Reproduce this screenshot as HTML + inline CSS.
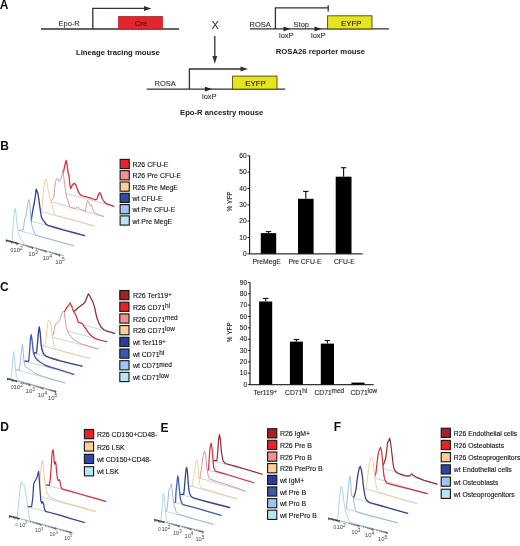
<!DOCTYPE html><html><head><meta charset="utf-8"><style>html,body{margin:0;padding:0;background:#fff;}svg{display:block;}</style></head><body>
<svg width="520" height="546" viewBox="0 0 520 546" font-family='"Liberation Sans", sans-serif'>
<defs><filter id="soft" filterUnits="userSpaceOnUse" x="0" y="0" width="520" height="546"><feGaussianBlur stdDeviation="0.42"/></filter></defs>
<rect width="520" height="546" fill="#fff"/>
<g filter="url(#soft)">
<text x="-0.3" y="9.3" font-size="12.00" font-weight="bold" text-anchor="start" fill="#111" >A</text>
<text x="0.3" y="150.0" font-size="12.00" font-weight="bold" text-anchor="start" fill="#111" >B</text>
<text x="0.1" y="291.1" font-size="12.00" font-weight="bold" text-anchor="start" fill="#111" >C</text>
<text x="0.3" y="430.8" font-size="12.00" font-weight="bold" text-anchor="start" fill="#111" >D</text>
<text x="160.6" y="432.1" font-size="12.00" font-weight="bold" text-anchor="start" fill="#111" >E</text>
<text x="333.8" y="431.2" font-size="12.00" font-weight="bold" text-anchor="start" fill="#111" >F</text>
<line x1="41" y1="29" x2="179" y2="29" stroke="#333" stroke-width="1.3"/>
<polyline points="92.8,29 92.8,8.4 146,8.4" fill="none" stroke="#333" stroke-width="1.3"/>
<polygon points="144,5.9 151.5,8.4 144,10.9" fill="#333"/>
<rect x="118.3" y="16.3" width="44.3" height="12.7" fill="#e2252d" stroke="#a01c20" stroke-width="0.6"/>
<text x="141.0" y="26.4" font-size="7.80" font-weight="normal" text-anchor="middle" fill="#401010" stroke="#401010" stroke-width="0.15">Cre</text>
<text x="58.5" y="26.4" font-size="7.50" font-weight="normal" text-anchor="start" fill="#2e2e2e" stroke="#2e2e2e" stroke-width="0.1">Epo-R</text>
<text x="76.0" y="54.6" font-size="7.70" font-weight="bold" text-anchor="start" fill="#1a1a1a" >Lineage tracing mouse</text>
<text x="215.1" y="28.8" font-size="11.00" font-weight="normal" text-anchor="middle" fill="#333" stroke="#333" stroke-width="0.1">X</text>
<line x1="214.8" y1="36" x2="214.8" y2="57" stroke="#333" stroke-width="1.3"/>
<polygon points="212.4,56 217.2,56 214.8,64" fill="#333"/>
<line x1="250" y1="28.9" x2="389" y2="28.9" stroke="#333" stroke-width="1.3"/>
<polyline points="275.4,28.9 275.4,7.8 328.2,7.8" fill="none" stroke="#333" stroke-width="1.3"/>
<line x1="328.2" y1="5.2" x2="328.2" y2="11.4" stroke="#333" stroke-width="1.3"/>
<polygon points="283.5,26.6 290.5,28.9 283.5,31.2" fill="#222"/>
<polygon points="314.5,26.6 321.5,28.9 314.5,31.2" fill="#222"/>
<rect x="327.6" y="15.8" width="44.4" height="13.1" fill="#e6e41e" stroke="#4a4a10" stroke-width="0.9"/>
<text x="351.3" y="26.3" font-size="7.80" font-weight="normal" text-anchor="middle" fill="#262606" stroke="#262606" stroke-width="0.15">EYFP</text>
<text x="249.5" y="26.6" font-size="7.50" font-weight="normal" text-anchor="start" fill="#2e2e2e" stroke="#2e2e2e" stroke-width="0.1">ROSA</text>
<text x="293.6" y="26.6" font-size="7.50" font-weight="normal" text-anchor="start" fill="#2e2e2e" stroke="#2e2e2e" stroke-width="0.1">Stop</text>
<text x="279.0" y="37.5" font-size="7.50" font-weight="normal" text-anchor="start" fill="#2e2e2e" stroke="#2e2e2e" stroke-width="0.1">loxP</text>
<text x="311.0" y="37.7" font-size="7.50" font-weight="normal" text-anchor="start" fill="#2e2e2e" stroke="#2e2e2e" stroke-width="0.1">loxP</text>
<text x="275.8" y="54.3" font-size="7.70" font-weight="bold" text-anchor="start" fill="#1a1a1a" >ROSA26 reporter mouse</text>
<line x1="146.8" y1="89.1" x2="285.2" y2="89.1" stroke="#333" stroke-width="1.3"/>
<polyline points="189.4,89.1 189.4,69 242,69" fill="none" stroke="#333" stroke-width="1.3"/>
<polygon points="240.5,66.5 248,69 240.5,71.5" fill="#333"/>
<polygon points="205,86.8 212,89.1 205,91.4" fill="#222"/>
<rect x="232.4" y="76.1" width="44.6" height="13" fill="#e6e41e" stroke="#4a4a10" stroke-width="0.9"/>
<text x="255.5" y="86.4" font-size="7.80" font-weight="normal" text-anchor="middle" fill="#262606" stroke="#262606" stroke-width="0.15">EYFP</text>
<text x="154.5" y="86.3" font-size="7.50" font-weight="normal" text-anchor="start" fill="#2e2e2e" stroke="#2e2e2e" stroke-width="0.1">ROSA</text>
<text x="202.0" y="99.2" font-size="7.50" font-weight="normal" text-anchor="start" fill="#2e2e2e" stroke="#2e2e2e" stroke-width="0.1">loxP</text>
<text x="180.0" y="114.7" font-size="7.70" font-weight="bold" text-anchor="start" fill="#1a1a1a" >Epo-R ancestry mouse</text>
<polygon points="60.0,192.0 61.5,182.0 63.0,174.0 64.5,167.0 66.0,160.5 67.0,164.0 68.0,172.0 69.0,176.0 69.8,184.0 70.6,188.3 71.5,186.8 72.9,184.3 74.3,183.4 75.6,184.6 77.0,188.0 78.5,192.2 80.5,194.9 83.0,196.2 86.6,196.8 90.0,197.8 93.0,199.0 95.5,199.8 97.0,199.0 98.5,194.5 99.8,192.6 101.0,194.5 102.3,199.0 104.0,201.5 106.0,203.3 109.0,204.6 113.8,206.3 113.8,206.3 60.0,192.0" fill="#fff" stroke="none"/>
<line x1="60.0" y1="192.0" x2="113.8" y2="206.3" stroke="#c2c6ce" stroke-width="0.8"/>
<polyline points="60.0,192.0 61.5,182.0 63.0,174.0 64.5,167.0 66.0,160.5 67.0,164.0 68.0,172.0 69.0,176.0 69.8,184.0 70.6,188.3 71.5,186.8 72.9,184.3 74.3,183.4 75.6,184.6 77.0,188.0 78.5,192.2 80.5,194.9 83.0,196.2 86.6,196.8 90.0,197.8 93.0,199.0 95.5,199.8 97.0,199.0 98.5,194.5 99.8,192.6 101.0,194.5 102.3,199.0 104.0,201.5 106.0,203.3 109.0,204.6 113.8,206.3" fill="none" stroke="#d0303f" stroke-width="1.30" stroke-linejoin="round" stroke-linecap="round"/>
<polygon points="50.6,201.6 52.0,200.2 53.8,197.5 54.7,188.3 55.6,181.5 56.5,179.0 57.8,178.4 59.2,181.5 60.5,179.5 61.9,175.6 62.8,170.3 63.7,176.6 64.7,184.8 65.6,191.2 66.5,197.0 67.7,200.0 69.6,206.9 70.8,207.7 75.4,208.5 77.7,206.5 79.2,208.0 80.8,209.6 85.4,211.2 86.5,205.0 87.3,200.4 88.5,201.5 90.0,205.4 91.2,204.8 92.3,207.3 93.8,211.9 96.2,213.5 100.0,215.4 103.8,216.5 103.8,216.5 50.6,201.6" fill="#fff" stroke="none"/>
<line x1="50.6" y1="201.6" x2="103.8" y2="216.5" stroke="#c2c6ce" stroke-width="0.8"/>
<polyline points="50.6,201.6 52.0,200.2 53.8,197.5 54.7,188.3 55.6,181.5 56.5,179.0 57.8,178.4 59.2,181.5 60.5,179.5 61.9,175.6 62.8,170.3 63.7,176.6 64.7,184.8 65.6,191.2 66.5,197.0 67.7,200.0 69.6,206.9 70.8,207.7 75.4,208.5 77.7,206.5 79.2,208.0 80.8,209.6 85.4,211.2 86.5,205.0 87.3,200.4 88.5,201.5 90.0,205.4 91.2,204.8 92.3,207.3 93.8,211.9 96.2,213.5 100.0,215.4 103.8,216.5" fill="none" stroke="#dc98a0" stroke-width="1.00" stroke-linejoin="round" stroke-linecap="round"/>
<polygon points="41.9,211.7 42.3,206.0 42.8,197.5 43.7,188.3 45.1,180.0 46.0,178.7 46.9,181.9 47.9,188.3 49.2,195.6 50.6,200.2 52.0,205.7 53.4,210.3 54.7,214.0 56.0,215.5 60.0,216.6 70.0,219.3 80.0,222.0 94.6,226.0 94.6,226.0 41.9,211.7" fill="#fff" stroke="none"/>
<line x1="41.9" y1="211.7" x2="94.6" y2="226.0" stroke="#c2c6ce" stroke-width="0.8"/>
<polyline points="41.9,211.7 42.3,206.0 42.8,197.5 43.7,188.3 45.1,180.0 46.0,178.7 46.9,181.9 47.9,188.3 49.2,195.6 50.6,200.2 52.0,205.7 53.4,210.3 54.7,214.0 56.0,215.5 60.0,216.6 70.0,219.3 80.0,222.0 94.6,226.0" fill="none" stroke="#efd0a2" stroke-width="1.00" stroke-linejoin="round" stroke-linecap="round"/>
<polygon points="31.1,221.1 31.6,217.9 32.5,212.0 33.4,207.0 34.3,203.0 35.2,197.0 36.2,189.2 37.8,193.0 38.7,198.5 39.6,205.0 40.5,211.5 41.4,217.0 42.5,219.5 44.4,221.6 46.2,224.4 48.0,225.4 55.0,227.5 65.0,230.3 75.0,233.0 84.6,235.6 84.6,235.6 31.1,221.1" fill="#fff" stroke="none"/>
<line x1="31.1" y1="221.1" x2="84.6" y2="235.6" stroke="#c2c6ce" stroke-width="0.8"/>
<polyline points="31.1,221.1 31.6,217.9 32.5,212.0 33.4,207.0 34.3,203.0 35.2,197.0 36.2,189.2 37.8,193.0 38.7,198.5 39.6,205.0 40.5,211.5 41.4,217.0 42.5,219.5 44.4,221.6 46.2,224.4 48.0,225.4 55.0,227.5 65.0,230.3 75.0,233.0 84.6,235.6" fill="none" stroke="#37438e" stroke-width="1.35" stroke-linejoin="round" stroke-linecap="round"/>
<polygon points="18.3,230.3 23.3,229.8 24.2,222.5 25.0,217.9 26.1,216.5 27.0,208.7 27.9,202.3 29.0,199.6 29.7,203.2 30.2,208.7 30.6,215.1 31.1,221.6 32.0,226.1 33.4,229.8 34.8,233.5 36.1,235.3 40.0,236.5 50.0,239.2 60.0,242.0 74.0,245.8 74.0,245.8 18.3,230.3" fill="#fff" stroke="none"/>
<line x1="18.3" y1="230.3" x2="74.0" y2="245.8" stroke="#c2c6ce" stroke-width="0.8"/>
<polyline points="18.3,230.3 23.3,229.8 24.2,222.5 25.0,217.9 26.1,216.5 27.0,208.7 27.9,202.3 29.0,199.6 29.7,203.2 30.2,208.7 30.6,215.1 31.1,221.6 32.0,226.1 33.4,229.8 34.8,233.5 36.1,235.3 40.0,236.5 50.0,239.2 60.0,242.0 74.0,245.8" fill="none" stroke="#98bae0" stroke-width="1.00" stroke-linejoin="round" stroke-linecap="round"/>
<polygon points="6.0,240.0 11.9,241.5 12.8,231.6 13.4,222.5 14.2,213.3 15.1,208.3 16.0,213.3 16.9,222.5 17.8,229.8 18.7,234.4 20.1,238.0 22.4,241.7 25.0,245.0 63.5,255.8 63.5,255.8 6.0,240.0" fill="#fff" stroke="none"/>
<line x1="6.0" y1="240.0" x2="63.5" y2="255.8" stroke="#c2c6ce" stroke-width="0.8"/>
<polyline points="6.0,240.0 11.9,241.5 12.8,231.6 13.4,222.5 14.2,213.3 15.1,208.3 16.0,213.3 16.9,222.5 17.8,229.8 18.7,234.4 20.1,238.0 22.4,241.7 25.0,245.0 63.5,255.8" fill="none" stroke="#acd8e6" stroke-width="1.00" stroke-linejoin="round" stroke-linecap="round"/>
<polygon points="65.8,320.2 70.0,315.0 74.3,311.0 76.1,309.7 78.0,307.8 79.8,306.4 81.6,305.0 83.5,303.9 85.4,301.5 87.1,297.1 88.4,293.8 89.8,296.0 91.5,299.3 93.1,302.6 94.8,308.1 95.9,313.6 97.0,318.0 98.6,322.4 100.8,326.8 103.6,329.5 106.9,331.2 111.3,332.3 114.6,333.4 114.6,333.4 65.8,320.2" fill="#fff" stroke="none"/>
<line x1="65.8" y1="320.2" x2="114.6" y2="333.4" stroke="#c2c6ce" stroke-width="0.8"/>
<polyline points="65.8,320.2 70.0,315.0 74.3,311.0 76.1,309.7 78.0,307.8 79.8,306.4 81.6,305.0 83.5,303.9 85.4,301.5 87.1,297.1 88.4,293.8 89.8,296.0 91.5,299.3 93.1,302.6 94.8,308.1 95.9,313.6 97.0,318.0 98.6,322.4 100.8,326.8 103.6,329.5 106.9,331.2 111.3,332.3 114.6,333.4" fill="none" stroke="#8c2c34" stroke-width="1.25" stroke-linejoin="round" stroke-linecap="round"/>
<polygon points="58.0,328.4 61.0,322.0 63.8,311.5 64.7,311.5 66.1,308.7 67.4,306.9 68.8,305.1 70.2,302.8 71.1,305.1 72.0,306.9 72.9,309.7 73.8,311.9 75.0,313.6 76.6,316.9 78.3,322.4 80.5,322.9 82.7,324.0 84.3,326.8 86.0,329.0 88.2,332.3 90.9,335.5 94.8,338.3 99.2,340.0 103.6,341.0 106.9,341.6 106.9,341.6 58.0,328.4" fill="#fff" stroke="none"/>
<line x1="58.0" y1="328.4" x2="106.9" y2="341.6" stroke="#c2c6ce" stroke-width="0.8"/>
<polyline points="58.0,328.4 61.0,322.0 63.8,311.5 64.7,311.5 66.1,308.7 67.4,306.9 68.8,305.1 70.2,302.8 71.1,305.1 72.0,306.9 72.9,309.7 73.8,311.9 75.0,313.6 76.6,316.9 78.3,322.4 80.5,322.9 82.7,324.0 84.3,326.8 86.0,329.0 88.2,332.3 90.9,335.5 94.8,338.3 99.2,340.0 103.6,341.0 106.9,341.6" fill="none" stroke="#d0303f" stroke-width="1.25" stroke-linejoin="round" stroke-linecap="round"/>
<polygon points="49.2,336.4 53.2,335.3 54.2,329.8 55.1,325.2 56.4,323.4 58.3,322.5 59.7,320.6 61.0,316.1 62.0,312.9 63.3,311.0 64.2,312.4 65.1,318.8 66.1,326.1 67.4,330.7 68.8,333.5 70.6,336.2 73.4,339.5 77.0,341.5 80.7,343.6 85.0,345.0 90.0,346.6 98.0,348.9 98.0,348.9 49.2,336.4" fill="#fff" stroke="none"/>
<line x1="49.2" y1="336.4" x2="98.0" y2="348.9" stroke="#c2c6ce" stroke-width="0.8"/>
<polyline points="49.2,336.4 53.2,335.3 54.2,329.8 55.1,325.2 56.4,323.4 58.3,322.5 59.7,320.6 61.0,316.1 62.0,312.9 63.3,311.0 64.2,312.4 65.1,318.8 66.1,326.1 67.4,330.7 68.8,333.5 70.6,336.2 73.4,339.5 77.0,341.5 80.7,343.6 85.0,345.0 90.0,346.6 98.0,348.9" fill="none" stroke="#dc98a0" stroke-width="1.00" stroke-linejoin="round" stroke-linecap="round"/>
<polygon points="41.2,345.4 45.2,345.2 46.1,337.9 47.0,328.7 47.9,322.3 49.3,320.0 50.2,321.4 51.1,326.0 52.0,333.3 53.0,340.6 53.9,345.2 55.3,349.0 60.0,350.5 70.0,353.2 80.0,355.9 90.0,358.6 90.0,358.6 41.2,345.4" fill="#fff" stroke="none"/>
<line x1="41.2" y1="345.4" x2="90.0" y2="358.6" stroke="#c2c6ce" stroke-width="0.8"/>
<polyline points="41.2,345.4 45.2,345.2 46.1,337.9 47.0,328.7 47.9,322.3 49.3,320.0 50.2,321.4 51.1,326.0 52.0,333.3 53.0,340.6 53.9,345.2 55.3,349.0 60.0,350.5 70.0,353.2 80.0,355.9 90.0,358.6" fill="none" stroke="#efd0a2" stroke-width="1.00" stroke-linejoin="round" stroke-linecap="round"/>
<polygon points="33.2,353.0 36.5,353.0 36.9,349.8 37.6,342.5 38.3,333.3 39.2,326.9 40.0,331.5 40.6,337.9 41.2,345.2 42.0,349.8 43.4,353.5 45.6,355.8 49.3,357.6 53.9,359.0 60.0,360.8 70.0,363.3 82.0,366.2 82.0,366.2 33.2,353.0" fill="#fff" stroke="none"/>
<line x1="33.2" y1="353.0" x2="82.0" y2="366.2" stroke="#c2c6ce" stroke-width="0.8"/>
<polyline points="33.2,353.0 36.5,353.0 36.9,349.8 37.6,342.5 38.3,333.3 39.2,326.9 40.0,331.5 40.6,337.9 41.2,345.2 42.0,349.8 43.4,353.5 45.6,355.8 49.3,357.6 53.9,359.0 60.0,360.8 70.0,363.3 82.0,366.2" fill="none" stroke="#37438e" stroke-width="1.35" stroke-linejoin="round" stroke-linecap="round"/>
<polygon points="24.6,361.2 28.7,361.2 29.2,356.2 29.9,347.0 30.5,337.9 31.2,334.7 31.9,338.8 32.6,345.2 33.3,351.6 34.2,355.3 35.6,358.0 37.4,359.9 39.7,361.7 42.4,363.5 44.7,365.0 50.0,367.0 60.0,369.9 73.9,374.3 73.9,374.3 24.6,361.2" fill="#fff" stroke="none"/>
<line x1="24.6" y1="361.2" x2="73.9" y2="374.3" stroke="#c2c6ce" stroke-width="0.8"/>
<polyline points="24.6,361.2 28.7,361.2 29.2,356.2 29.9,347.0 30.5,337.9 31.2,334.7 31.9,338.8 32.6,345.2 33.3,351.6 34.2,355.3 35.6,358.0 37.4,359.9 39.7,361.7 42.4,363.5 44.7,365.0 50.0,367.0 60.0,369.9 73.9,374.3" fill="none" stroke="#4060b0" stroke-width="1.35" stroke-linejoin="round" stroke-linecap="round"/>
<polygon points="15.9,369.6 19.2,370.2 20.3,362.5 21.4,351.5 22.5,343.8 23.3,353.0 24.0,362.0 25.3,366.5 28.0,368.5 31.0,370.5 33.0,372.2 36.3,374.0 45.0,377.2 55.0,380.1 64.7,382.8 64.7,382.8 15.9,369.6" fill="#fff" stroke="none"/>
<line x1="15.9" y1="369.6" x2="64.7" y2="382.8" stroke="#c2c6ce" stroke-width="0.8"/>
<polyline points="15.9,369.6 19.2,370.2 20.3,362.5 21.4,351.5 22.5,343.8 23.3,353.0 24.0,362.0 25.3,366.5 28.0,368.5 31.0,370.5 33.0,372.2 36.3,374.0 45.0,377.2 55.0,380.1 64.7,382.8" fill="none" stroke="#98bae0" stroke-width="1.00" stroke-linejoin="round" stroke-linecap="round"/>
<polygon points="7.1,378.4 11.0,379.5 12.1,368.0 13.0,357.0 13.7,351.5 14.5,357.0 15.4,369.0 16.5,376.8 18.1,379.8 20.0,381.0 56.5,391.5 56.5,391.5 7.1,378.4" fill="#fff" stroke="none"/>
<line x1="7.1" y1="378.4" x2="56.5" y2="391.5" stroke="#c2c6ce" stroke-width="0.8"/>
<polyline points="7.1,378.4 11.0,379.5 12.1,368.0 13.0,357.0 13.7,351.5 14.5,357.0 15.4,369.0 16.5,376.8 18.1,379.8 20.0,381.0 56.5,391.5" fill="none" stroke="#acd8e6" stroke-width="1.00" stroke-linejoin="round" stroke-linecap="round"/>
<polygon points="45.6,484.9 49.4,485.4 50.4,477.7 51.2,467.1 51.8,456.5 52.5,450.8 53.1,449.8 53.8,455.6 54.2,462.3 54.7,464.2 55.4,461.8 56.0,464.2 56.6,471.9 57.3,477.7 58.1,480.6 59.0,479.6 59.8,480.6 60.5,484.4 61.4,488.3 62.9,489.2 70.0,491.2 80.0,494.0 90.0,496.9 105.8,501.3 105.8,501.3 45.6,484.9" fill="#fff" stroke="none"/>
<line x1="45.6" y1="484.9" x2="105.8" y2="501.3" stroke="#c2c6ce" stroke-width="0.8"/>
<polyline points="45.6,484.9 49.4,485.4 50.4,477.7 51.2,467.1 51.8,456.5 52.5,450.8 53.1,449.8 53.8,455.6 54.2,462.3 54.7,464.2 55.4,461.8 56.0,464.2 56.6,471.9 57.3,477.7 58.1,480.6 59.0,479.6 59.8,480.6 60.5,484.4 61.4,488.3 62.9,489.2 70.0,491.2 80.0,494.0 90.0,496.9 105.8,501.3" fill="none" stroke="#d0303f" stroke-width="1.20" stroke-linejoin="round" stroke-linecap="round"/>
<polygon points="36.5,495.7 38.5,492.0 39.5,485.0 40.2,478.0 41.0,469.0 41.7,462.3 42.5,460.4 43.2,464.2 43.8,471.9 44.6,479.6 45.4,485.4 46.3,490.2 47.5,494.0 50.0,497.0 55.0,499.5 60.0,501.3 70.0,504.0 80.0,506.9 95.2,511.5 95.2,511.5 36.5,495.7" fill="#fff" stroke="none"/>
<line x1="36.5" y1="495.7" x2="95.2" y2="511.5" stroke="#c2c6ce" stroke-width="0.8"/>
<polyline points="36.5,495.7 38.5,492.0 39.5,485.0 40.2,478.0 41.0,469.0 41.7,462.3 42.5,460.4 43.2,464.2 43.8,471.9 44.6,479.6 45.4,485.4 46.3,490.2 47.5,494.0 50.0,497.0 55.0,499.5 60.0,501.3 70.0,504.0 80.0,506.9 95.2,511.5" fill="none" stroke="#efd0a2" stroke-width="1.10" stroke-linejoin="round" stroke-linecap="round"/>
<polygon points="27.3,506.5 31.6,506.5 32.3,501.7 33.1,494.0 33.6,484.4 34.5,481.5 35.5,480.6 36.9,477.7 37.9,473.8 38.7,471.4 39.3,479.6 40.0,489.2 40.8,500.8 41.7,503.2 42.7,501.7 43.7,504.6 44.6,509.4 45.6,511.3 50.0,512.5 60.0,515.2 70.0,518.4 84.6,522.5 84.6,522.5 27.3,506.5" fill="#fff" stroke="none"/>
<line x1="27.3" y1="506.5" x2="84.6" y2="522.5" stroke="#c2c6ce" stroke-width="0.8"/>
<polyline points="27.3,506.5 31.6,506.5 32.3,501.7 33.1,494.0 33.6,484.4 34.5,481.5 35.5,480.6 36.9,477.7 37.9,473.8 38.7,471.4 39.3,479.6 40.0,489.2 40.8,500.8 41.7,503.2 42.7,501.7 43.7,504.6 44.6,509.4 45.6,511.3 50.0,512.5 60.0,515.2 70.0,518.4 84.6,522.5" fill="none" stroke="#37438e" stroke-width="1.25" stroke-linejoin="round" stroke-linecap="round"/>
<polygon points="9.3,515.8 17.2,516.5 18.2,508.5 19.1,498.8 20.1,489.2 21.1,482.5 21.7,481.5 23.0,485.4 23.9,484.4 24.9,487.3 25.9,494.0 26.8,501.7 27.8,508.5 28.8,514.2 29.7,519.0 31.0,521.0 40.0,523.8 72.7,532.7 72.7,532.7 9.3,515.8" fill="#fff" stroke="none"/>
<line x1="9.3" y1="515.8" x2="72.7" y2="532.7" stroke="#c2c6ce" stroke-width="0.8"/>
<polyline points="9.3,515.8 17.2,516.5 18.2,508.5 19.1,498.8 20.1,489.2 21.1,482.5 21.7,481.5 23.0,485.4 23.9,484.4 24.9,487.3 25.9,494.0 26.8,501.7 27.8,508.5 28.8,514.2 29.7,519.0 31.0,521.0 40.0,523.8 72.7,532.7" fill="none" stroke="#acd8e6" stroke-width="1.00" stroke-linejoin="round" stroke-linecap="round"/>
<polygon points="213.0,460.7 216.9,460.7 217.7,452.7 218.5,440.4 219.5,434.5 220.5,440.4 221.5,452.7 223.1,461.2 225.4,463.5 235.0,466.2 245.0,469.0 262.3,474.2 262.3,474.2 213.0,460.7" fill="#fff" stroke="none"/>
<line x1="213.0" y1="460.7" x2="262.3" y2="474.2" stroke="#c2c6ce" stroke-width="0.8"/>
<polyline points="213.0,460.7 216.9,460.7 217.7,452.7 218.5,440.4 219.5,434.5 220.5,440.4 221.5,452.7 223.1,461.2 225.4,463.5 235.0,466.2 245.0,469.0 262.3,474.2" fill="none" stroke="#8c2c34" stroke-width="1.20" stroke-linejoin="round" stroke-linecap="round"/>
<polygon points="206.6,469.6 208.5,469.6 209.2,458.8 210.0,448.0 211.1,443.2 212.0,448.0 213.1,461.9 213.8,468.0 215.4,471.2 225.0,473.8 240.0,478.5 253.8,482.7 253.8,482.7 206.6,469.6" fill="#fff" stroke="none"/>
<line x1="206.6" y1="469.6" x2="253.8" y2="482.7" stroke="#c2c6ce" stroke-width="0.8"/>
<polyline points="206.6,469.6 208.5,469.6 209.2,458.8 210.0,448.0 211.1,443.2 212.0,448.0 213.1,461.9 213.8,468.0 215.4,471.2 225.0,473.8 240.0,478.5 253.8,482.7" fill="none" stroke="#d0303f" stroke-width="1.20" stroke-linejoin="round" stroke-linecap="round"/>
<polygon points="199.0,478.0 200.0,478.1 201.5,468.0 203.1,455.8 204.6,450.8 205.7,455.8 206.9,468.0 208.2,475.8 209.2,478.8 220.0,482.5 230.0,485.5 245.4,491.2 245.4,491.2 199.0,478.0" fill="#fff" stroke="none"/>
<line x1="199.0" y1="478.0" x2="245.4" y2="491.2" stroke="#c2c6ce" stroke-width="0.8"/>
<polyline points="199.0,478.0 200.0,478.1 201.5,468.0 203.1,455.8 204.6,450.8 205.7,455.8 206.9,468.0 208.2,475.8 209.2,478.8 220.0,482.5 230.0,485.5 245.4,491.2" fill="none" stroke="#dc98a0" stroke-width="1.00" stroke-linejoin="round" stroke-linecap="round"/>
<polygon points="190.5,486.0 192.3,486.0 193.5,478.0 194.6,471.2 195.8,461.9 196.9,459.6 198.0,465.0 198.9,477.3 200.0,485.8 201.5,488.1 210.0,490.8 220.0,493.8 236.9,498.8 236.9,498.8 190.5,486.0" fill="#fff" stroke="none"/>
<line x1="190.5" y1="486.0" x2="236.9" y2="498.8" stroke="#c2c6ce" stroke-width="0.8"/>
<polyline points="190.5,486.0 192.3,486.0 193.5,478.0 194.6,471.2 195.8,461.9 196.9,459.6 198.0,465.0 198.9,477.3 200.0,485.8 201.5,488.1 210.0,490.8 220.0,493.8 236.9,498.8" fill="none" stroke="#efd0a2" stroke-width="1.00" stroke-linejoin="round" stroke-linecap="round"/>
<polygon points="180.2,494.4 183.7,494.4 184.4,488.4 185.2,478.1 186.0,470.0 186.7,467.5 187.5,472.3 188.3,483.8 189.2,491.9 190.4,495.4 192.7,497.7 200.0,499.8 210.0,502.5 229.5,507.5 229.5,507.5 180.2,494.4" fill="#fff" stroke="none"/>
<line x1="180.2" y1="494.4" x2="229.5" y2="507.5" stroke="#c2c6ce" stroke-width="0.8"/>
<polyline points="180.2,494.4 183.7,494.4 184.4,488.4 185.2,478.1 186.0,470.0 186.7,467.5 187.5,472.3 188.3,483.8 189.2,491.9 190.4,495.4 192.7,497.7 200.0,499.8 210.0,502.5 229.5,507.5" fill="none" stroke="#37438e" stroke-width="1.30" stroke-linejoin="round" stroke-linecap="round"/>
<polygon points="174.8,502.3 175.5,502.3 176.0,491.9 177.1,481.5 177.7,475.8 178.3,478.1 178.8,483.8 179.4,489.6 180.2,497.7 181.4,502.3 182.9,504.6 190.0,506.3 200.0,509.2 210.0,512.2 221.1,515.4 221.1,515.4 174.8,502.3" fill="#fff" stroke="none"/>
<line x1="174.8" y1="502.3" x2="221.1" y2="515.4" stroke="#c2c6ce" stroke-width="0.8"/>
<polyline points="174.8,502.3 175.5,502.3 176.0,491.9 177.1,481.5 177.7,475.8 178.3,478.1 178.8,483.8 179.4,489.6 180.2,497.7 181.4,502.3 182.9,504.6 190.0,506.3 200.0,509.2 210.0,512.2 221.1,515.4" fill="none" stroke="#4060b0" stroke-width="1.30" stroke-linejoin="round" stroke-linecap="round"/>
<polygon points="166.1,511.5 167.0,510.0 167.9,501.1 169.0,489.6 170.2,487.3 171.3,483.8 172.1,489.6 173.1,498.8 174.2,505.7 176.0,511.5 177.7,513.8 190.0,517.8 200.0,520.6 213.1,524.2 213.1,524.2 166.1,511.5" fill="#fff" stroke="none"/>
<line x1="166.1" y1="511.5" x2="213.1" y2="524.2" stroke="#c2c6ce" stroke-width="0.8"/>
<polyline points="166.1,511.5 167.0,510.0 167.9,501.1 169.0,489.6 170.2,487.3 171.3,483.8 172.1,489.6 173.1,498.8 174.2,505.7 176.0,511.5 177.7,513.8 190.0,517.8 200.0,520.6 213.1,524.2" fill="none" stroke="#98bae0" stroke-width="1.00" stroke-linejoin="round" stroke-linecap="round"/>
<polygon points="154.3,519.5 160.8,521.0 161.5,515.0 162.5,501.1 163.3,493.1 164.1,495.4 164.8,503.4 165.6,512.7 166.2,519.2 168.0,523.0 203.8,531.8 203.8,531.8 154.3,519.5" fill="#fff" stroke="none"/>
<line x1="154.3" y1="519.5" x2="203.8" y2="531.8" stroke="#c2c6ce" stroke-width="0.8"/>
<polyline points="154.3,519.5 160.8,521.0 161.5,515.0 162.5,501.1 163.3,493.1 164.1,495.4 164.8,503.4 165.6,512.7 166.2,519.2 168.0,523.0 203.8,531.8" fill="none" stroke="#acd8e6" stroke-width="1.00" stroke-linejoin="round" stroke-linecap="round"/>
<polygon points="380.0,467.5 382.0,467.0 384.0,463.4 385.5,458.8 386.7,450.8 387.5,442.7 388.6,441.0 389.6,438.1 390.4,441.5 391.3,448.5 392.1,455.4 392.9,462.3 393.8,468.1 395.6,471.5 397.9,473.3 400.8,474.4 404.2,475.6 407.7,476.1 410.0,475.6 411.7,473.8 412.9,475.0 415.7,476.7 419.2,478.4 425.0,480.7 437.1,484.2 437.1,484.2 380.0,467.5" fill="#fff" stroke="none"/>
<line x1="380.0" y1="467.5" x2="437.1" y2="484.2" stroke="#c2c6ce" stroke-width="0.8"/>
<polyline points="380.0,467.5 382.0,467.0 384.0,463.4 385.5,458.8 386.7,450.8 387.5,442.7 388.6,441.0 389.6,438.1 390.4,441.5 391.3,448.5 392.1,455.4 392.9,462.3 393.8,468.1 395.6,471.5 397.9,473.3 400.8,474.4 404.2,475.6 407.7,476.1 410.0,475.6 411.7,473.8 412.9,475.0 415.7,476.7 419.2,478.4 425.0,480.7 437.1,484.2" fill="none" stroke="#8c2c34" stroke-width="1.20" stroke-linejoin="round" stroke-linecap="round"/>
<polygon points="374.2,477.8 376.0,472.7 377.1,462.3 378.3,453.1 379.4,449.6 380.6,447.3 381.7,451.9 382.5,460.0 383.2,469.2 384.0,476.1 385.2,480.7 386.9,483.1 395.0,485.3 410.0,489.2 427.3,493.7 427.3,493.7 374.2,477.8" fill="#fff" stroke="none"/>
<line x1="374.2" y1="477.8" x2="427.3" y2="493.7" stroke="#c2c6ce" stroke-width="0.8"/>
<polyline points="374.2,477.8 376.0,472.7 377.1,462.3 378.3,453.1 379.4,449.6 380.6,447.3 381.7,451.9 382.5,460.0 383.2,469.2 384.0,476.1 385.2,480.7 386.9,483.1 395.0,485.3 410.0,489.2 427.3,493.7" fill="none" stroke="#d0303f" stroke-width="1.20" stroke-linejoin="round" stroke-linecap="round"/>
<polygon points="365.8,489.0 367.5,478.1 369.2,464.2 370.9,458.5 371.3,457.7 372.1,457.5 373.3,461.9 374.4,472.3 375.6,482.7 376.7,488.4 378.4,491.9 385.0,494.0 400.0,498.6 416.9,503.6 416.9,503.6 365.8,489.0" fill="#fff" stroke="none"/>
<line x1="365.8" y1="489.0" x2="416.9" y2="503.6" stroke="#c2c6ce" stroke-width="0.8"/>
<polyline points="365.8,489.0 367.5,478.1 369.2,464.2 370.9,458.5 371.3,457.7 372.1,457.5 373.3,461.9 374.4,472.3 375.6,482.7 376.7,488.4 378.4,491.9 385.0,494.0 400.0,498.6 416.9,503.6" fill="none" stroke="#efd0a2" stroke-width="1.00" stroke-linejoin="round" stroke-linecap="round"/>
<polygon points="353.5,498.0 354.8,494.2 356.0,489.6 357.1,480.4 358.3,472.3 359.4,467.7 360.3,466.5 361.4,470.0 362.3,475.8 363.4,486.1 364.6,494.2 365.8,498.8 367.5,501.1 370.4,502.9 380.0,505.5 390.0,508.3 407.7,513.3 407.7,513.3 353.5,498.0" fill="#fff" stroke="none"/>
<line x1="353.5" y1="498.0" x2="407.7" y2="513.3" stroke="#c2c6ce" stroke-width="0.8"/>
<polyline points="353.5,498.0 354.8,494.2 356.0,489.6 357.1,480.4 358.3,472.3 359.4,467.7 360.3,466.5 361.4,470.0 362.3,475.8 363.4,486.1 364.6,494.2 365.8,498.8 367.5,501.1 370.4,502.9 380.0,505.5 390.0,508.3 407.7,513.3" fill="none" stroke="#37438e" stroke-width="1.30" stroke-linejoin="round" stroke-linecap="round"/>
<polygon points="346.3,508.8 347.3,498.8 348.5,486.1 349.4,478.1 350.0,476.3 350.8,483.8 351.3,493.1 351.9,496.0 353.1,497.0 354.2,503.4 355.4,509.2 357.0,512.0 360.0,513.0 370.0,515.8 398.1,523.0 398.1,523.0 346.3,508.8" fill="#fff" stroke="none"/>
<line x1="346.3" y1="508.8" x2="398.1" y2="523.0" stroke="#c2c6ce" stroke-width="0.8"/>
<polyline points="346.3,508.8 347.3,498.8 348.5,486.1 349.4,478.1 350.0,476.3 350.8,483.8 351.3,493.1 351.9,496.0 353.1,497.0 354.2,503.4 355.4,509.2 357.0,512.0 360.0,513.0 370.0,515.8 398.1,523.0" fill="none" stroke="#98bae0" stroke-width="1.00" stroke-linejoin="round" stroke-linecap="round"/>
<polygon points="328.4,518.1 337.5,520.3 338.1,515.0 339.2,501.1 340.4,489.6 341.5,486.1 342.7,491.9 343.8,501.1 345.0,508.0 346.1,512.7 347.5,517.0 349.0,521.0 352.0,523.0 388.1,532.7 388.1,532.7 328.4,518.1" fill="#fff" stroke="none"/>
<line x1="328.4" y1="518.1" x2="388.1" y2="532.7" stroke="#c2c6ce" stroke-width="0.8"/>
<polyline points="328.4,518.1 337.5,520.3 338.1,515.0 339.2,501.1 340.4,489.6 341.5,486.1 342.7,491.9 343.8,501.1 345.0,508.0 346.1,512.7 347.5,517.0 349.0,521.0 352.0,523.0 388.1,532.7" fill="none" stroke="#acd8e6" stroke-width="1.00" stroke-linejoin="round" stroke-linecap="round"/>
<line x1="6.0" y1="240.0" x2="63.5" y2="255.8" stroke="#9aa8ae" stroke-width="0.7"/>
<line x1="6.0" y1="240.0" x2="19.0" y2="243.6" stroke="#555" stroke-width="0.7"/>
<line x1="6.3" y1="239.8" x2="6.3" y2="242.0" stroke="#111" stroke-width="0.7"/>
<line x1="7.6" y1="240.1" x2="7.6" y2="241.7" stroke="#111" stroke-width="0.7"/>
<line x1="8.9" y1="240.5" x2="8.9" y2="242.1" stroke="#111" stroke-width="0.7"/>
<line x1="10.2" y1="240.9" x2="10.2" y2="242.5" stroke="#111" stroke-width="0.7"/>
<line x1="11.5" y1="241.2" x2="11.5" y2="243.4" stroke="#111" stroke-width="0.7"/>
<line x1="12.8" y1="241.6" x2="12.8" y2="243.2" stroke="#111" stroke-width="0.7"/>
<line x1="14.1" y1="241.9" x2="14.1" y2="243.5" stroke="#111" stroke-width="0.7"/>
<line x1="15.4" y1="242.3" x2="15.4" y2="243.9" stroke="#111" stroke-width="0.7"/>
<line x1="16.7" y1="242.6" x2="16.7" y2="244.8" stroke="#111" stroke-width="0.7"/>
<line x1="18.0" y1="243.0" x2="18.0" y2="244.6" stroke="#111" stroke-width="0.7"/>
<line x1="23.1" y1="244.4" x2="23.1" y2="245.9" stroke="#555" stroke-width="0.7"/>
<line x1="25.4" y1="245.0" x2="25.4" y2="246.5" stroke="#555" stroke-width="0.7"/>
<line x1="27.1" y1="245.5" x2="27.1" y2="247.0" stroke="#555" stroke-width="0.7"/>
<line x1="28.4" y1="245.9" x2="28.4" y2="247.4" stroke="#555" stroke-width="0.7"/>
<line x1="29.5" y1="246.2" x2="29.5" y2="247.7" stroke="#555" stroke-width="0.7"/>
<line x1="30.4" y1="246.4" x2="30.4" y2="247.9" stroke="#555" stroke-width="0.7"/>
<line x1="31.2" y1="246.6" x2="31.2" y2="248.1" stroke="#555" stroke-width="0.7"/>
<line x1="31.9" y1="246.8" x2="31.9" y2="248.3" stroke="#555" stroke-width="0.7"/>
<line x1="32.5" y1="247.0" x2="32.5" y2="249.2" stroke="#333" stroke-width="0.7"/>
<line x1="36.6" y1="248.1" x2="36.6" y2="249.6" stroke="#555" stroke-width="0.7"/>
<line x1="38.9" y1="248.8" x2="38.9" y2="250.3" stroke="#555" stroke-width="0.7"/>
<line x1="40.6" y1="249.2" x2="40.6" y2="250.7" stroke="#555" stroke-width="0.7"/>
<line x1="41.9" y1="249.6" x2="41.9" y2="251.1" stroke="#555" stroke-width="0.7"/>
<line x1="43.0" y1="249.9" x2="43.0" y2="251.4" stroke="#555" stroke-width="0.7"/>
<line x1="43.9" y1="250.1" x2="43.9" y2="251.6" stroke="#555" stroke-width="0.7"/>
<line x1="44.7" y1="250.3" x2="44.7" y2="251.8" stroke="#555" stroke-width="0.7"/>
<line x1="45.4" y1="250.5" x2="45.4" y2="252.0" stroke="#555" stroke-width="0.7"/>
<line x1="46.0" y1="250.7" x2="46.0" y2="252.9" stroke="#333" stroke-width="0.7"/>
<line x1="50.1" y1="251.8" x2="50.1" y2="253.3" stroke="#555" stroke-width="0.7"/>
<line x1="52.4" y1="252.5" x2="52.4" y2="254.0" stroke="#555" stroke-width="0.7"/>
<line x1="54.1" y1="252.9" x2="54.1" y2="254.4" stroke="#555" stroke-width="0.7"/>
<line x1="55.4" y1="253.3" x2="55.4" y2="254.8" stroke="#555" stroke-width="0.7"/>
<line x1="56.5" y1="253.6" x2="56.5" y2="255.1" stroke="#555" stroke-width="0.7"/>
<line x1="57.4" y1="253.8" x2="57.4" y2="255.3" stroke="#555" stroke-width="0.7"/>
<line x1="58.2" y1="254.0" x2="58.2" y2="255.5" stroke="#555" stroke-width="0.7"/>
<line x1="58.9" y1="254.2" x2="58.9" y2="255.7" stroke="#555" stroke-width="0.7"/>
<line x1="59.5" y1="254.4" x2="59.5" y2="256.6" stroke="#333" stroke-width="0.7"/>
<text x="10.6" y="251.5" font-size="4.96" fill="#444">0</text>
<text x="13.2" y="251.8" font-size="6.20" fill="#444">10<tspan font-size="4.96" dy="-2.3">2</tspan></text>
<text x="28.3" y="256.2" font-size="6.20" fill="#444">10<tspan font-size="4.96" dy="-2.3">3</tspan></text>
<text x="42.4" y="259.9" font-size="6.20" fill="#444">10<tspan font-size="4.96" dy="-2.3">4</tspan></text>
<text x="55.2" y="263.6" font-size="6.20" fill="#444">10<tspan font-size="4.96" dy="-2.3">5</tspan></text>
<line x1="7.2" y1="378.4" x2="56.5" y2="391.5" stroke="#9aa8ae" stroke-width="0.7"/>
<line x1="7.2" y1="378.4" x2="17.5" y2="381.1" stroke="#555" stroke-width="0.7"/>
<line x1="7.5" y1="378.2" x2="7.5" y2="380.4" stroke="#111" stroke-width="0.7"/>
<line x1="8.8" y1="378.5" x2="8.8" y2="380.1" stroke="#111" stroke-width="0.7"/>
<line x1="10.1" y1="378.9" x2="10.1" y2="380.5" stroke="#111" stroke-width="0.7"/>
<line x1="11.4" y1="379.2" x2="11.4" y2="380.8" stroke="#111" stroke-width="0.7"/>
<line x1="12.7" y1="379.6" x2="12.7" y2="381.8" stroke="#111" stroke-width="0.7"/>
<line x1="14.0" y1="379.9" x2="14.0" y2="381.5" stroke="#111" stroke-width="0.7"/>
<line x1="15.3" y1="380.3" x2="15.3" y2="381.9" stroke="#111" stroke-width="0.7"/>
<line x1="16.6" y1="380.6" x2="16.6" y2="382.2" stroke="#111" stroke-width="0.7"/>
<line x1="21.3" y1="381.8" x2="21.3" y2="383.3" stroke="#555" stroke-width="0.7"/>
<line x1="23.5" y1="382.4" x2="23.5" y2="383.9" stroke="#555" stroke-width="0.7"/>
<line x1="25.0" y1="382.8" x2="25.0" y2="384.3" stroke="#555" stroke-width="0.7"/>
<line x1="26.2" y1="383.2" x2="26.2" y2="384.7" stroke="#555" stroke-width="0.7"/>
<line x1="27.2" y1="383.4" x2="27.2" y2="384.9" stroke="#555" stroke-width="0.7"/>
<line x1="28.1" y1="383.6" x2="28.1" y2="385.1" stroke="#555" stroke-width="0.7"/>
<line x1="28.8" y1="383.8" x2="28.8" y2="385.3" stroke="#555" stroke-width="0.7"/>
<line x1="29.4" y1="384.0" x2="29.4" y2="385.5" stroke="#555" stroke-width="0.7"/>
<line x1="30.0" y1="384.2" x2="30.0" y2="386.4" stroke="#333" stroke-width="0.7"/>
<line x1="33.9" y1="385.2" x2="33.9" y2="386.7" stroke="#555" stroke-width="0.7"/>
<line x1="36.2" y1="385.8" x2="36.2" y2="387.3" stroke="#555" stroke-width="0.7"/>
<line x1="37.8" y1="386.2" x2="37.8" y2="387.7" stroke="#555" stroke-width="0.7"/>
<line x1="39.1" y1="386.6" x2="39.1" y2="388.1" stroke="#555" stroke-width="0.7"/>
<line x1="40.1" y1="386.8" x2="40.1" y2="388.3" stroke="#555" stroke-width="0.7"/>
<line x1="41.0" y1="387.1" x2="41.0" y2="388.6" stroke="#555" stroke-width="0.7"/>
<line x1="41.7" y1="387.3" x2="41.7" y2="388.8" stroke="#555" stroke-width="0.7"/>
<line x1="42.4" y1="387.5" x2="42.4" y2="389.0" stroke="#555" stroke-width="0.7"/>
<line x1="43.0" y1="387.6" x2="43.0" y2="389.8" stroke="#333" stroke-width="0.7"/>
<line x1="46.8" y1="388.6" x2="46.8" y2="390.1" stroke="#555" stroke-width="0.7"/>
<line x1="49.0" y1="389.2" x2="49.0" y2="390.7" stroke="#555" stroke-width="0.7"/>
<line x1="50.5" y1="389.6" x2="50.5" y2="391.1" stroke="#555" stroke-width="0.7"/>
<line x1="51.7" y1="389.9" x2="51.7" y2="391.4" stroke="#555" stroke-width="0.7"/>
<line x1="52.7" y1="390.2" x2="52.7" y2="391.7" stroke="#555" stroke-width="0.7"/>
<line x1="53.6" y1="390.4" x2="53.6" y2="391.9" stroke="#555" stroke-width="0.7"/>
<line x1="54.3" y1="390.6" x2="54.3" y2="392.1" stroke="#555" stroke-width="0.7"/>
<line x1="54.9" y1="390.8" x2="54.9" y2="392.3" stroke="#555" stroke-width="0.7"/>
<line x1="55.5" y1="390.9" x2="55.5" y2="393.1" stroke="#333" stroke-width="0.7"/>
<text x="11.0" y="388.8" font-size="4.80" fill="#444">0</text>
<text x="13.5" y="388.8" font-size="6.00" fill="#444">10<tspan font-size="4.80" dy="-2.3">2</tspan></text>
<text x="25.6" y="392.9" font-size="6.00" fill="#444">10<tspan font-size="4.80" dy="-2.3">3</tspan></text>
<text x="37.7" y="396.9" font-size="6.00" fill="#444">10<tspan font-size="4.80" dy="-2.3">4</tspan></text>
<text x="47.8" y="399.6" font-size="6.00" fill="#444">10<tspan font-size="4.80" dy="-2.3">5</tspan></text>
<line x1="9.3" y1="515.8" x2="72.7" y2="532.7" stroke="#9aa8ae" stroke-width="0.7"/>
<line x1="9.3" y1="515.8" x2="20.0" y2="518.7" stroke="#555" stroke-width="0.7"/>
<line x1="9.6" y1="515.6" x2="9.6" y2="517.8" stroke="#111" stroke-width="0.7"/>
<line x1="10.9" y1="515.9" x2="10.9" y2="517.5" stroke="#111" stroke-width="0.7"/>
<line x1="12.2" y1="516.3" x2="12.2" y2="517.9" stroke="#111" stroke-width="0.7"/>
<line x1="13.5" y1="516.6" x2="13.5" y2="518.2" stroke="#111" stroke-width="0.7"/>
<line x1="14.8" y1="517.0" x2="14.8" y2="519.2" stroke="#111" stroke-width="0.7"/>
<line x1="16.1" y1="517.3" x2="16.1" y2="518.9" stroke="#111" stroke-width="0.7"/>
<line x1="17.4" y1="517.7" x2="17.4" y2="519.3" stroke="#111" stroke-width="0.7"/>
<line x1="18.7" y1="518.0" x2="18.7" y2="519.6" stroke="#111" stroke-width="0.7"/>
<line x1="30.5" y1="521.2" x2="30.5" y2="522.7" stroke="#555" stroke-width="0.7"/>
<line x1="33.2" y1="521.9" x2="33.2" y2="523.4" stroke="#555" stroke-width="0.7"/>
<line x1="35.0" y1="522.4" x2="35.0" y2="523.9" stroke="#555" stroke-width="0.7"/>
<line x1="36.5" y1="522.7" x2="36.5" y2="524.2" stroke="#555" stroke-width="0.7"/>
<line x1="37.7" y1="523.1" x2="37.7" y2="524.6" stroke="#555" stroke-width="0.7"/>
<line x1="38.7" y1="523.3" x2="38.7" y2="524.8" stroke="#555" stroke-width="0.7"/>
<line x1="39.5" y1="523.6" x2="39.5" y2="525.1" stroke="#555" stroke-width="0.7"/>
<line x1="40.3" y1="523.8" x2="40.3" y2="525.3" stroke="#555" stroke-width="0.7"/>
<line x1="41.0" y1="524.0" x2="41.0" y2="526.1" stroke="#333" stroke-width="0.7"/>
<line x1="45.5" y1="525.2" x2="45.5" y2="526.7" stroke="#555" stroke-width="0.7"/>
<line x1="48.2" y1="525.9" x2="48.2" y2="527.4" stroke="#555" stroke-width="0.7"/>
<line x1="50.0" y1="526.4" x2="50.0" y2="527.9" stroke="#555" stroke-width="0.7"/>
<line x1="51.5" y1="526.7" x2="51.5" y2="528.2" stroke="#555" stroke-width="0.7"/>
<line x1="52.7" y1="527.1" x2="52.7" y2="528.6" stroke="#555" stroke-width="0.7"/>
<line x1="53.7" y1="527.3" x2="53.7" y2="528.8" stroke="#555" stroke-width="0.7"/>
<line x1="54.5" y1="527.6" x2="54.5" y2="529.1" stroke="#555" stroke-width="0.7"/>
<line x1="55.3" y1="527.8" x2="55.3" y2="529.3" stroke="#555" stroke-width="0.7"/>
<line x1="56.0" y1="527.9" x2="56.0" y2="530.1" stroke="#333" stroke-width="0.7"/>
<line x1="60.5" y1="529.2" x2="60.5" y2="530.7" stroke="#555" stroke-width="0.7"/>
<line x1="63.2" y1="529.9" x2="63.2" y2="531.4" stroke="#555" stroke-width="0.7"/>
<line x1="65.0" y1="530.4" x2="65.0" y2="531.9" stroke="#555" stroke-width="0.7"/>
<line x1="66.5" y1="530.7" x2="66.5" y2="532.2" stroke="#555" stroke-width="0.7"/>
<line x1="67.7" y1="531.1" x2="67.7" y2="532.6" stroke="#555" stroke-width="0.7"/>
<line x1="68.7" y1="531.3" x2="68.7" y2="532.8" stroke="#555" stroke-width="0.7"/>
<line x1="69.5" y1="531.6" x2="69.5" y2="533.1" stroke="#555" stroke-width="0.7"/>
<line x1="70.3" y1="531.8" x2="70.3" y2="533.3" stroke="#555" stroke-width="0.7"/>
<line x1="71.0" y1="531.9" x2="71.0" y2="534.1" stroke="#333" stroke-width="0.7"/>
<text x="15.4" y="526.2" font-size="4.24" fill="#444">0</text>
<text x="19.2" y="526.5" font-size="5.30" fill="#444">10<tspan font-size="4.24" dy="-2.3">2</tspan></text>
<text x="35.0" y="531.9" font-size="5.30" fill="#444">10<tspan font-size="4.24" dy="-2.3">3</tspan></text>
<text x="49.6" y="535.8" font-size="5.30" fill="#444">10<tspan font-size="4.24" dy="-2.3">4</tspan></text>
<text x="64.2" y="539.6" font-size="5.30" fill="#444">10<tspan font-size="4.24" dy="-2.3">5</tspan></text>
<line x1="154.3" y1="519.5" x2="203.8" y2="531.8" stroke="#9aa8ae" stroke-width="0.7"/>
<line x1="154.3" y1="519.5" x2="165.0" y2="522.2" stroke="#555" stroke-width="0.7"/>
<line x1="154.6" y1="519.3" x2="154.6" y2="521.5" stroke="#111" stroke-width="0.7"/>
<line x1="155.9" y1="519.6" x2="155.9" y2="521.2" stroke="#111" stroke-width="0.7"/>
<line x1="157.2" y1="519.9" x2="157.2" y2="521.5" stroke="#111" stroke-width="0.7"/>
<line x1="158.5" y1="520.2" x2="158.5" y2="521.8" stroke="#111" stroke-width="0.7"/>
<line x1="159.8" y1="520.6" x2="159.8" y2="522.8" stroke="#111" stroke-width="0.7"/>
<line x1="161.1" y1="520.9" x2="161.1" y2="522.5" stroke="#111" stroke-width="0.7"/>
<line x1="162.4" y1="521.2" x2="162.4" y2="522.8" stroke="#111" stroke-width="0.7"/>
<line x1="163.7" y1="521.5" x2="163.7" y2="523.1" stroke="#111" stroke-width="0.7"/>
<line x1="169.9" y1="523.1" x2="169.9" y2="524.6" stroke="#555" stroke-width="0.7"/>
<line x1="172.2" y1="523.6" x2="172.2" y2="525.1" stroke="#555" stroke-width="0.7"/>
<line x1="173.8" y1="524.1" x2="173.8" y2="525.6" stroke="#555" stroke-width="0.7"/>
<line x1="175.1" y1="524.4" x2="175.1" y2="525.9" stroke="#555" stroke-width="0.7"/>
<line x1="176.1" y1="524.6" x2="176.1" y2="526.1" stroke="#555" stroke-width="0.7"/>
<line x1="177.0" y1="524.8" x2="177.0" y2="526.3" stroke="#555" stroke-width="0.7"/>
<line x1="177.7" y1="525.0" x2="177.7" y2="526.5" stroke="#555" stroke-width="0.7"/>
<line x1="178.4" y1="525.2" x2="178.4" y2="526.7" stroke="#555" stroke-width="0.7"/>
<line x1="179.0" y1="525.3" x2="179.0" y2="527.5" stroke="#333" stroke-width="0.7"/>
<line x1="182.6" y1="526.2" x2="182.6" y2="527.7" stroke="#555" stroke-width="0.7"/>
<line x1="184.7" y1="526.8" x2="184.7" y2="528.3" stroke="#555" stroke-width="0.7"/>
<line x1="186.2" y1="527.1" x2="186.2" y2="528.6" stroke="#555" stroke-width="0.7"/>
<line x1="187.4" y1="527.4" x2="187.4" y2="528.9" stroke="#555" stroke-width="0.7"/>
<line x1="188.3" y1="527.7" x2="188.3" y2="529.2" stroke="#555" stroke-width="0.7"/>
<line x1="189.1" y1="527.9" x2="189.1" y2="529.4" stroke="#555" stroke-width="0.7"/>
<line x1="189.8" y1="528.0" x2="189.8" y2="529.5" stroke="#555" stroke-width="0.7"/>
<line x1="190.5" y1="528.2" x2="190.5" y2="529.7" stroke="#555" stroke-width="0.7"/>
<line x1="191.0" y1="528.3" x2="191.0" y2="530.5" stroke="#333" stroke-width="0.7"/>
<line x1="194.6" y1="529.2" x2="194.6" y2="530.7" stroke="#555" stroke-width="0.7"/>
<line x1="196.7" y1="529.7" x2="196.7" y2="531.2" stroke="#555" stroke-width="0.7"/>
<line x1="198.2" y1="530.1" x2="198.2" y2="531.6" stroke="#555" stroke-width="0.7"/>
<line x1="199.4" y1="530.4" x2="199.4" y2="531.9" stroke="#555" stroke-width="0.7"/>
<line x1="200.3" y1="530.6" x2="200.3" y2="532.1" stroke="#555" stroke-width="0.7"/>
<line x1="201.1" y1="530.8" x2="201.1" y2="532.3" stroke="#555" stroke-width="0.7"/>
<line x1="201.8" y1="531.0" x2="201.8" y2="532.5" stroke="#555" stroke-width="0.7"/>
<line x1="202.5" y1="531.2" x2="202.5" y2="532.7" stroke="#555" stroke-width="0.7"/>
<line x1="203.0" y1="531.3" x2="203.0" y2="533.5" stroke="#333" stroke-width="0.7"/>
<text x="158.3" y="531.0" font-size="4.48" fill="#444">0</text>
<text x="161.5" y="531.4" font-size="5.60" fill="#444">10<tspan font-size="4.48" dy="-2.3">2</tspan></text>
<text x="173.0" y="535.4" font-size="5.60" fill="#444">10<tspan font-size="4.48" dy="-2.3">3</tspan></text>
<text x="184.6" y="537.7" font-size="5.60" fill="#444">10<tspan font-size="4.48" dy="-2.3">4</tspan></text>
<text x="195.4" y="540.8" font-size="5.60" fill="#444">10<tspan font-size="4.48" dy="-2.3">5</tspan></text>
<line x1="328.4" y1="518.1" x2="388.1" y2="532.7" stroke="#9aa8ae" stroke-width="0.7"/>
<line x1="328.4" y1="518.1" x2="340.0" y2="520.9" stroke="#555" stroke-width="0.7"/>
<line x1="328.7" y1="517.9" x2="328.7" y2="520.1" stroke="#111" stroke-width="0.7"/>
<line x1="330.0" y1="518.2" x2="330.0" y2="519.8" stroke="#111" stroke-width="0.7"/>
<line x1="331.3" y1="518.5" x2="331.3" y2="520.1" stroke="#111" stroke-width="0.7"/>
<line x1="332.6" y1="518.8" x2="332.6" y2="520.4" stroke="#111" stroke-width="0.7"/>
<line x1="333.9" y1="519.1" x2="333.9" y2="521.3" stroke="#111" stroke-width="0.7"/>
<line x1="335.2" y1="519.5" x2="335.2" y2="521.1" stroke="#111" stroke-width="0.7"/>
<line x1="336.5" y1="519.8" x2="336.5" y2="521.4" stroke="#111" stroke-width="0.7"/>
<line x1="337.8" y1="520.1" x2="337.8" y2="521.7" stroke="#111" stroke-width="0.7"/>
<line x1="339.1" y1="520.4" x2="339.1" y2="522.6" stroke="#111" stroke-width="0.7"/>
<line x1="349.2" y1="522.9" x2="349.2" y2="524.4" stroke="#555" stroke-width="0.7"/>
<line x1="351.7" y1="523.5" x2="351.7" y2="525.0" stroke="#555" stroke-width="0.7"/>
<line x1="353.4" y1="523.9" x2="353.4" y2="525.4" stroke="#555" stroke-width="0.7"/>
<line x1="354.8" y1="524.3" x2="354.8" y2="525.8" stroke="#555" stroke-width="0.7"/>
<line x1="355.9" y1="524.5" x2="355.9" y2="526.0" stroke="#555" stroke-width="0.7"/>
<line x1="356.8" y1="524.8" x2="356.8" y2="526.3" stroke="#555" stroke-width="0.7"/>
<line x1="357.6" y1="525.0" x2="357.6" y2="526.5" stroke="#555" stroke-width="0.7"/>
<line x1="358.4" y1="525.1" x2="358.4" y2="526.6" stroke="#555" stroke-width="0.7"/>
<line x1="359.0" y1="525.3" x2="359.0" y2="527.5" stroke="#333" stroke-width="0.7"/>
<line x1="363.2" y1="526.3" x2="363.2" y2="527.8" stroke="#555" stroke-width="0.7"/>
<line x1="365.7" y1="526.9" x2="365.7" y2="528.4" stroke="#555" stroke-width="0.7"/>
<line x1="367.4" y1="527.3" x2="367.4" y2="528.8" stroke="#555" stroke-width="0.7"/>
<line x1="368.8" y1="527.7" x2="368.8" y2="529.2" stroke="#555" stroke-width="0.7"/>
<line x1="369.9" y1="527.9" x2="369.9" y2="529.4" stroke="#555" stroke-width="0.7"/>
<line x1="370.8" y1="528.2" x2="370.8" y2="529.7" stroke="#555" stroke-width="0.7"/>
<line x1="371.6" y1="528.4" x2="371.6" y2="529.9" stroke="#555" stroke-width="0.7"/>
<line x1="372.4" y1="528.6" x2="372.4" y2="530.1" stroke="#555" stroke-width="0.7"/>
<line x1="373.0" y1="528.7" x2="373.0" y2="530.9" stroke="#333" stroke-width="0.7"/>
<line x1="377.2" y1="529.7" x2="377.2" y2="531.2" stroke="#555" stroke-width="0.7"/>
<line x1="379.7" y1="530.3" x2="379.7" y2="531.8" stroke="#555" stroke-width="0.7"/>
<line x1="381.4" y1="530.8" x2="381.4" y2="532.3" stroke="#555" stroke-width="0.7"/>
<line x1="382.8" y1="531.1" x2="382.8" y2="532.6" stroke="#555" stroke-width="0.7"/>
<line x1="383.9" y1="531.4" x2="383.9" y2="532.9" stroke="#555" stroke-width="0.7"/>
<line x1="384.8" y1="531.6" x2="384.8" y2="533.1" stroke="#555" stroke-width="0.7"/>
<line x1="385.6" y1="531.8" x2="385.6" y2="533.3" stroke="#555" stroke-width="0.7"/>
<line x1="386.4" y1="532.0" x2="386.4" y2="533.5" stroke="#555" stroke-width="0.7"/>
<line x1="387.0" y1="532.1" x2="387.0" y2="534.3" stroke="#333" stroke-width="0.7"/>
<text x="333.4" y="528.5" font-size="4.72" fill="#444">0</text>
<text x="336.5" y="528.8" font-size="5.90" fill="#444">10<tspan font-size="4.72" dy="-2.3">2</tspan></text>
<text x="351.2" y="534.2" font-size="5.90" fill="#444">10<tspan font-size="4.72" dy="-2.3">3</tspan></text>
<text x="365.0" y="537.3" font-size="5.90" fill="#444">10<tspan font-size="4.72" dy="-2.3">4</tspan></text>
<text x="378.0" y="541.2" font-size="5.90" fill="#444">10<tspan font-size="4.72" dy="-2.3">5</tspan></text>
<rect x="120.1" y="159.4" width="9.2" height="9.2" fill="#e82028" stroke="#151515" stroke-width="1.1"/>
<text x="132.5" y="167.0" font-size="6.95" font-weight="normal" text-anchor="start" fill="#111" stroke="#111" stroke-width="0.12">R26 CFU-E</text>
<rect x="120.1" y="170.7" width="9.2" height="9.2" fill="#f29090" stroke="#151515" stroke-width="1.1"/>
<text x="132.5" y="178.3" font-size="6.95" font-weight="normal" text-anchor="start" fill="#111" stroke="#111" stroke-width="0.12">R26 Pre CFU-E</text>
<rect x="120.1" y="182.0" width="9.2" height="9.2" fill="#fcd096" stroke="#151515" stroke-width="1.1"/>
<text x="132.5" y="189.6" font-size="6.95" font-weight="normal" text-anchor="start" fill="#111" stroke="#111" stroke-width="0.12">R26 Pre MegE</text>
<rect x="120.1" y="193.3" width="9.2" height="9.2" fill="#3346a0" stroke="#151515" stroke-width="1.1"/>
<text x="132.5" y="200.9" font-size="6.95" font-weight="normal" text-anchor="start" fill="#111" stroke="#111" stroke-width="0.12">wt CFU-E</text>
<rect x="120.1" y="204.6" width="9.2" height="9.2" fill="#a2c4f2" stroke="#151515" stroke-width="1.1"/>
<text x="132.5" y="212.2" font-size="6.95" font-weight="normal" text-anchor="start" fill="#111" stroke="#111" stroke-width="0.12">wt Pre CFU-E</text>
<rect x="120.1" y="215.9" width="9.2" height="9.2" fill="#b6e6f2" stroke="#151515" stroke-width="1.1"/>
<text x="132.5" y="223.5" font-size="6.95" font-weight="normal" text-anchor="start" fill="#111" stroke="#111" stroke-width="0.12">wt Pre MegE</text>
<rect x="119.8" y="290.5" width="9.2" height="9.2" fill="#a3222a" stroke="#151515" stroke-width="1.1"/>
<text x="132.9" y="298.1" font-size="6.95" font-weight="normal" text-anchor="start" fill="#111" stroke="#111" stroke-width="0.12">R26 Ter119<tspan font-size="6.0" dy="-2.0">+</tspan></text>
<rect x="119.8" y="302.2" width="9.2" height="9.2" fill="#e82028" stroke="#151515" stroke-width="1.1"/>
<text x="132.9" y="309.8" font-size="6.95" font-weight="normal" text-anchor="start" fill="#111" stroke="#111" stroke-width="0.12">R26 CD71<tspan font-size="6.5" dy="-1.8" dx="-0.2">hi</tspan></text>
<rect x="119.8" y="313.9" width="9.2" height="9.2" fill="#f29090" stroke="#151515" stroke-width="1.1"/>
<text x="132.9" y="321.5" font-size="6.95" font-weight="normal" text-anchor="start" fill="#111" stroke="#111" stroke-width="0.12">R26 CD71<tspan font-size="6.5" dy="-1.8" dx="-0.2">med</tspan></text>
<rect x="119.8" y="325.6" width="9.2" height="9.2" fill="#fcd096" stroke="#151515" stroke-width="1.1"/>
<text x="132.9" y="333.2" font-size="6.95" font-weight="normal" text-anchor="start" fill="#111" stroke="#111" stroke-width="0.12">R26 CD71<tspan font-size="6.5" dy="-1.8" dx="-0.2">low</tspan></text>
<rect x="119.8" y="337.3" width="9.2" height="9.2" fill="#2d3b9a" stroke="#151515" stroke-width="1.1"/>
<text x="132.9" y="344.9" font-size="6.95" font-weight="normal" text-anchor="start" fill="#111" stroke="#111" stroke-width="0.12">wt Ter119<tspan font-size="6.0" dy="-2.0">+</tspan></text>
<rect x="119.8" y="349.0" width="9.2" height="9.2" fill="#3c56b0" stroke="#151515" stroke-width="1.1"/>
<text x="132.9" y="356.6" font-size="6.95" font-weight="normal" text-anchor="start" fill="#111" stroke="#111" stroke-width="0.12">wt CD71<tspan font-size="6.5" dy="-1.8" dx="-0.2">hi</tspan></text>
<rect x="119.8" y="360.7" width="9.2" height="9.2" fill="#a2c4f2" stroke="#151515" stroke-width="1.1"/>
<text x="132.9" y="368.3" font-size="6.95" font-weight="normal" text-anchor="start" fill="#111" stroke="#111" stroke-width="0.12">wt CD71<tspan font-size="6.5" dy="-1.8" dx="-0.2">med</tspan></text>
<rect x="119.8" y="372.4" width="9.2" height="9.2" fill="#b6e6f2" stroke="#151515" stroke-width="1.1"/>
<text x="132.9" y="380.0" font-size="6.95" font-weight="normal" text-anchor="start" fill="#111" stroke="#111" stroke-width="0.12">wt CD71<tspan font-size="6.5" dy="-1.8" dx="-0.2">low</tspan></text>
<rect x="84.4" y="429.5" width="9.2" height="9.2" fill="#e82028" stroke="#151515" stroke-width="1.1"/>
<text x="96.9" y="437.1" font-size="6.95" font-weight="normal" text-anchor="start" fill="#111" stroke="#111" stroke-width="0.12">R26 CD150+CD48-</text>
<rect x="84.4" y="441.9" width="9.2" height="9.2" fill="#fcd096" stroke="#151515" stroke-width="1.1"/>
<text x="96.9" y="449.5" font-size="6.95" font-weight="normal" text-anchor="start" fill="#111" stroke="#111" stroke-width="0.12">R26 LSK</text>
<rect x="84.4" y="454.3" width="9.2" height="9.2" fill="#3446a6" stroke="#151515" stroke-width="1.1"/>
<text x="96.9" y="461.9" font-size="6.95" font-weight="normal" text-anchor="start" fill="#111" stroke="#111" stroke-width="0.12">wt CD150+CD48-</text>
<rect x="84.4" y="466.7" width="9.2" height="9.2" fill="#b6e6f2" stroke="#151515" stroke-width="1.1"/>
<text x="96.9" y="474.3" font-size="6.95" font-weight="normal" text-anchor="start" fill="#111" stroke="#111" stroke-width="0.12">wt LSK</text>
<rect x="267.6" y="428.7" width="9.2" height="9.2" fill="#a3222a" stroke="#151515" stroke-width="1.1"/>
<text x="279.9" y="436.3" font-size="6.95" font-weight="normal" text-anchor="start" fill="#111" stroke="#111" stroke-width="0.12">R26 IgM+</text>
<rect x="267.6" y="440.3" width="9.2" height="9.2" fill="#e82028" stroke="#151515" stroke-width="1.1"/>
<text x="279.9" y="447.9" font-size="6.95" font-weight="normal" text-anchor="start" fill="#111" stroke="#111" stroke-width="0.12">R26 Pre B</text>
<rect x="267.6" y="452.0" width="9.2" height="9.2" fill="#f29090" stroke="#151515" stroke-width="1.1"/>
<text x="279.9" y="459.6" font-size="6.95" font-weight="normal" text-anchor="start" fill="#111" stroke="#111" stroke-width="0.12">R26 Pro B</text>
<rect x="267.6" y="463.6" width="9.2" height="9.2" fill="#fcd096" stroke="#151515" stroke-width="1.1"/>
<text x="279.9" y="471.2" font-size="6.95" font-weight="normal" text-anchor="start" fill="#111" stroke="#111" stroke-width="0.12">R26 PrePro B</text>
<rect x="267.6" y="475.3" width="9.2" height="9.2" fill="#2d3b9a" stroke="#151515" stroke-width="1.1"/>
<text x="279.9" y="482.9" font-size="6.95" font-weight="normal" text-anchor="start" fill="#111" stroke="#111" stroke-width="0.12">wt IgM+</text>
<rect x="267.6" y="486.9" width="9.2" height="9.2" fill="#3c56b0" stroke="#151515" stroke-width="1.1"/>
<text x="279.9" y="494.5" font-size="6.95" font-weight="normal" text-anchor="start" fill="#111" stroke="#111" stroke-width="0.12">wt Pre B</text>
<rect x="267.6" y="498.6" width="9.2" height="9.2" fill="#a2c4f2" stroke="#151515" stroke-width="1.1"/>
<text x="279.9" y="506.2" font-size="6.95" font-weight="normal" text-anchor="start" fill="#111" stroke="#111" stroke-width="0.12">wt Pro B</text>
<rect x="267.6" y="510.2" width="9.2" height="9.2" fill="#b6e6f2" stroke="#151515" stroke-width="1.1"/>
<text x="279.9" y="517.9" font-size="6.95" font-weight="normal" text-anchor="start" fill="#111" stroke="#111" stroke-width="0.12">wt PrePro B</text>
<rect x="441.2" y="428.2" width="9.2" height="9.2" fill="#a3222a" stroke="#151515" stroke-width="1.1"/>
<text x="453.8" y="435.8" font-size="6.80" font-weight="normal" text-anchor="start" fill="#111" stroke="#111" stroke-width="0.12">R26 Endothelial cells</text>
<rect x="441.2" y="440.4" width="9.2" height="9.2" fill="#e82028" stroke="#151515" stroke-width="1.1"/>
<text x="453.8" y="448.0" font-size="6.80" font-weight="normal" text-anchor="start" fill="#111" stroke="#111" stroke-width="0.12">R26 Osteoblasts</text>
<rect x="441.2" y="452.6" width="9.2" height="9.2" fill="#fcd096" stroke="#151515" stroke-width="1.1"/>
<text x="453.8" y="460.2" font-size="6.80" font-weight="normal" text-anchor="start" fill="#111" stroke="#111" stroke-width="0.12">R26 Osteoprogenitors</text>
<rect x="441.2" y="464.8" width="9.2" height="9.2" fill="#3042a0" stroke="#151515" stroke-width="1.1"/>
<text x="453.8" y="472.4" font-size="6.80" font-weight="normal" text-anchor="start" fill="#111" stroke="#111" stroke-width="0.12">wt Endothelial cells</text>
<rect x="441.2" y="477.0" width="9.2" height="9.2" fill="#a2c4f2" stroke="#151515" stroke-width="1.1"/>
<text x="453.8" y="484.6" font-size="6.80" font-weight="normal" text-anchor="start" fill="#111" stroke="#111" stroke-width="0.12">wt Osteoblasts</text>
<rect x="441.2" y="489.2" width="9.2" height="9.2" fill="#b6e6f2" stroke="#151515" stroke-width="1.1"/>
<text x="453.8" y="496.8" font-size="6.80" font-weight="normal" text-anchor="start" fill="#111" stroke="#111" stroke-width="0.12">wt Osteoprogenitors</text>
<line x1="249.6" y1="155.8" x2="249.6" y2="253.8" stroke="#111" stroke-width="1.1"/>
<line x1="249.1" y1="253.8" x2="362.6" y2="253.8" stroke="#333" stroke-width="1.2"/>
<line x1="247.4" y1="253.8" x2="249.6" y2="253.8" stroke="#111" stroke-width="0.9"/>
<text x="246.7" y="256.0" font-size="6.60" font-weight="normal" text-anchor="end" fill="#222" stroke="#222" stroke-width="0.1">0</text>
<line x1="247.4" y1="237.5" x2="249.6" y2="237.5" stroke="#111" stroke-width="0.9"/>
<text x="246.7" y="239.7" font-size="6.60" font-weight="normal" text-anchor="end" fill="#222" stroke="#222" stroke-width="0.1">10</text>
<line x1="247.4" y1="221.1" x2="249.6" y2="221.1" stroke="#111" stroke-width="0.9"/>
<text x="246.7" y="223.3" font-size="6.60" font-weight="normal" text-anchor="end" fill="#222" stroke="#222" stroke-width="0.1">20</text>
<line x1="247.4" y1="204.8" x2="249.6" y2="204.8" stroke="#111" stroke-width="0.9"/>
<text x="246.7" y="207.0" font-size="6.60" font-weight="normal" text-anchor="end" fill="#222" stroke="#222" stroke-width="0.1">30</text>
<line x1="247.4" y1="188.5" x2="249.6" y2="188.5" stroke="#111" stroke-width="0.9"/>
<text x="246.7" y="190.7" font-size="6.60" font-weight="normal" text-anchor="end" fill="#222" stroke="#222" stroke-width="0.1">40</text>
<line x1="247.4" y1="172.2" x2="249.6" y2="172.2" stroke="#111" stroke-width="0.9"/>
<text x="246.7" y="174.3" font-size="6.60" font-weight="normal" text-anchor="end" fill="#222" stroke="#222" stroke-width="0.1">50</text>
<line x1="247.4" y1="155.8" x2="249.6" y2="155.8" stroke="#111" stroke-width="0.9"/>
<text x="246.7" y="158.0" font-size="6.60" font-weight="normal" text-anchor="end" fill="#222" stroke="#222" stroke-width="0.1">60</text>
<line x1="268.5" y1="231.6" x2="268.5" y2="233.1" stroke="#111" stroke-width="1.1"/>
<line x1="265.8" y1="231.6" x2="271.2" y2="231.6" stroke="#111" stroke-width="1.1"/>
<rect x="260.8" y="233.1" width="15.4" height="20.7" fill="#000"/>
<text x="266.6" y="263.5" font-size="6.80" font-weight="normal" text-anchor="middle" fill="#222" stroke="#222" stroke-width="0.1">PreMegE</text>
<line x1="305.8" y1="191.4" x2="305.8" y2="198.8" stroke="#111" stroke-width="1.1"/>
<line x1="303.1" y1="191.4" x2="308.5" y2="191.4" stroke="#111" stroke-width="1.1"/>
<rect x="298.0" y="198.8" width="15.6" height="55.0" fill="#000"/>
<text x="305.0" y="263.5" font-size="6.80" font-weight="normal" text-anchor="middle" fill="#222" stroke="#222" stroke-width="0.1">Pre CFU-E</text>
<line x1="343.6" y1="167.7" x2="343.6" y2="176.7" stroke="#111" stroke-width="1.1"/>
<line x1="340.9" y1="167.7" x2="346.3" y2="167.7" stroke="#111" stroke-width="1.1"/>
<rect x="335.7" y="176.7" width="15.8" height="77.1" fill="#000"/>
<text x="344.3" y="263.5" font-size="6.80" font-weight="normal" text-anchor="middle" fill="#222" stroke="#222" stroke-width="0.1">CFU-E</text>
<text transform="translate(231.9,201.4) rotate(-90)" font-size="6.5" text-anchor="middle" fill="#222" stroke="#222" stroke-width="0.1">% YFP</text>
<line x1="250.0" y1="282.4" x2="250.0" y2="384.6" stroke="#111" stroke-width="1.1"/>
<line x1="249.5" y1="384.6" x2="373.7" y2="384.6" stroke="#333" stroke-width="1.2"/>
<line x1="247.8" y1="384.6" x2="250.0" y2="384.6" stroke="#111" stroke-width="0.9"/>
<text x="247.1" y="386.8" font-size="6.60" font-weight="normal" text-anchor="end" fill="#222" stroke="#222" stroke-width="0.1">0</text>
<line x1="247.8" y1="373.2" x2="250.0" y2="373.2" stroke="#111" stroke-width="0.9"/>
<text x="247.1" y="375.4" font-size="6.60" font-weight="normal" text-anchor="end" fill="#222" stroke="#222" stroke-width="0.1">10</text>
<line x1="247.8" y1="361.9" x2="250.0" y2="361.9" stroke="#111" stroke-width="0.9"/>
<text x="247.1" y="364.1" font-size="6.60" font-weight="normal" text-anchor="end" fill="#222" stroke="#222" stroke-width="0.1">20</text>
<line x1="247.8" y1="350.5" x2="250.0" y2="350.5" stroke="#111" stroke-width="0.9"/>
<text x="247.1" y="352.7" font-size="6.60" font-weight="normal" text-anchor="end" fill="#222" stroke="#222" stroke-width="0.1">30</text>
<line x1="247.8" y1="339.2" x2="250.0" y2="339.2" stroke="#111" stroke-width="0.9"/>
<text x="247.1" y="341.4" font-size="6.60" font-weight="normal" text-anchor="end" fill="#222" stroke="#222" stroke-width="0.1">40</text>
<line x1="247.8" y1="327.8" x2="250.0" y2="327.8" stroke="#111" stroke-width="0.9"/>
<text x="247.1" y="330.0" font-size="6.60" font-weight="normal" text-anchor="end" fill="#222" stroke="#222" stroke-width="0.1">50</text>
<line x1="247.8" y1="316.5" x2="250.0" y2="316.5" stroke="#111" stroke-width="0.9"/>
<text x="247.1" y="318.7" font-size="6.60" font-weight="normal" text-anchor="end" fill="#222" stroke="#222" stroke-width="0.1">60</text>
<line x1="247.8" y1="305.1" x2="250.0" y2="305.1" stroke="#111" stroke-width="0.9"/>
<text x="247.1" y="307.3" font-size="6.60" font-weight="normal" text-anchor="end" fill="#222" stroke="#222" stroke-width="0.1">70</text>
<line x1="247.8" y1="293.8" x2="250.0" y2="293.8" stroke="#111" stroke-width="0.9"/>
<text x="247.1" y="296.0" font-size="6.60" font-weight="normal" text-anchor="end" fill="#222" stroke="#222" stroke-width="0.1">80</text>
<line x1="247.8" y1="282.4" x2="250.0" y2="282.4" stroke="#111" stroke-width="0.9"/>
<text x="247.1" y="284.6" font-size="6.60" font-weight="normal" text-anchor="end" fill="#222" stroke="#222" stroke-width="0.1">90</text>
<line x1="265.7" y1="298.4" x2="265.7" y2="301.5" stroke="#111" stroke-width="1.1"/>
<line x1="263.0" y1="298.4" x2="268.4" y2="298.4" stroke="#111" stroke-width="1.1"/>
<rect x="259.1" y="301.5" width="13.1" height="83.1" fill="#000"/>
<text x="253.4" y="394.6" font-size="6.80" font-weight="normal" text-anchor="start" fill="#222" stroke="#222" stroke-width="0.1">Ter119<tspan font-size="5.8" dy="-2.0">+</tspan></text>
<line x1="296.4" y1="339.5" x2="296.4" y2="341.6" stroke="#111" stroke-width="1.1"/>
<line x1="293.7" y1="339.5" x2="299.1" y2="339.5" stroke="#111" stroke-width="1.1"/>
<rect x="289.9" y="341.6" width="13.0" height="43.0" fill="#000"/>
<text x="285.0" y="394.6" font-size="6.80" font-weight="normal" text-anchor="start" fill="#222" stroke="#222" stroke-width="0.1">CD71<tspan font-size="6.4" dy="-1.8" dx="-0.2">hi</tspan></text>
<line x1="327.4" y1="340.5" x2="327.4" y2="343.6" stroke="#111" stroke-width="1.1"/>
<line x1="324.7" y1="340.5" x2="330.1" y2="340.5" stroke="#111" stroke-width="1.1"/>
<rect x="320.8" y="343.6" width="13.2" height="41.0" fill="#000"/>
<text x="314.4" y="394.6" font-size="6.80" font-weight="normal" text-anchor="start" fill="#222" stroke="#222" stroke-width="0.1">CD71<tspan font-size="6.4" dy="-1.8" dx="-0.2">med</tspan></text>
<rect x="351.4" y="382.6" width="13.1" height="2.0" fill="#000"/>
<text x="350.4" y="394.6" font-size="6.80" font-weight="normal" text-anchor="start" fill="#222" stroke="#222" stroke-width="0.1">CD71<tspan font-size="6.4" dy="-1.8" dx="-0.2">low</tspan></text>
<text transform="translate(231.7,332.2) rotate(-90)" font-size="6.5" text-anchor="middle" fill="#222" stroke="#222" stroke-width="0.1">% YFP</text>
</g></svg></body></html>
